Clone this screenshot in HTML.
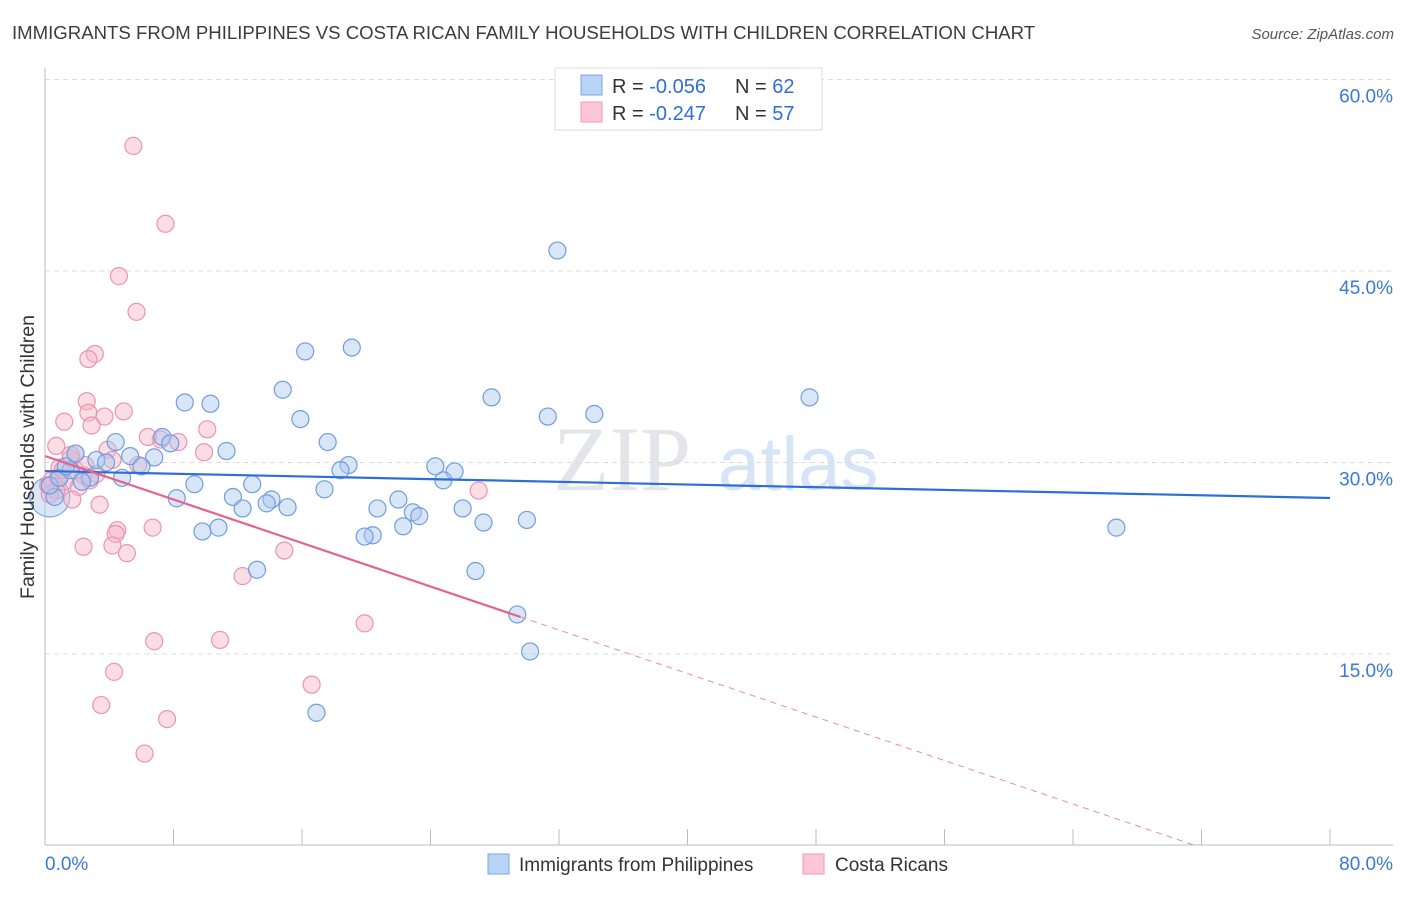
<!DOCTYPE html>
<html><head><meta charset="utf-8"><style>
body{margin:0;background:#fff;font-family:"Liberation Sans",sans-serif;}
svg text{font-family:"Liberation Sans",sans-serif;}
</style></head><body>
<svg id="chart" width="1406" height="892" xmlns="http://www.w3.org/2000/svg">
<text x="12" y="39" font-size="18.6" fill="#3c3c3c">IMMIGRANTS FROM PHILIPPINES VS COSTA RICAN FAMILY HOUSEHOLDS WITH CHILDREN CORRELATION CHART</text>
<text x="1394" y="39" font-size="15" fill="#555" font-style="italic" text-anchor="end">Source: ZipAtlas.com</text>
<text x="553" y="490" font-size="92" fill="#e2e5ea" style="font-family:'Liberation Serif',serif">ZIP</text>
<text x="718" y="490" font-size="76" fill="#d6e4f5">atlas</text>
<g id="grid"></g>
<g id="axes"></g>
<g id="pts"></g>
<g id="lines"></g>
<text x="34" y="457" font-size="19.5" fill="#333" text-anchor="middle" transform="rotate(-90 34 457)">Family Households with Children</text>
<g>
<rect x="555" y="68" width="267" height="62" fill="#fff" stroke="#ddd"/>
<rect x="581" y="75" width="21" height="20" fill="#b8d3f5" stroke="#7aa6e3"/>
<rect x="581" y="102" width="21" height="20" fill="#fcc6d6" stroke="#ec9ab4"/>
<text x="612" y="93" font-size="20" fill="#333">R = <tspan fill="#2f6fd6">-0.056</tspan></text>
<text x="735" y="93" font-size="20" fill="#333">N = <tspan fill="#2f6fd6">62</tspan></text>
<text x="612" y="120" font-size="20" fill="#333">R =  <tspan fill="#2f6fd6">-0.247</tspan></text>
<text x="735" y="120" font-size="20" fill="#333">N = <tspan fill="#2f6fd6">57</tspan></text>
</g>
<g>
<rect x="488" y="854" width="21" height="20" fill="#b8d3f5" stroke="#7aa6e3"/>
<text x="519" y="871" font-size="19" fill="#333">Immigrants from Philippines</text>
<rect x="803" y="854" width="21" height="20" fill="#fcc6d6" stroke="#ec9ab4"/>
<text x="835" y="871" font-size="19" fill="#333">Costa Ricans</text>
</g>
</svg>
<script>
const xTicks=[0,8,16,24,32,40,48,56,64,72,80];
const yTicks=[15,30,45,60];
const blueX=[31.9,19.1,16.2,47.6,27.8,14.8,8.7,10.3,31.3,34.2,15.9,17.6,4.4,7.3,7.8,11.3,5.3,6.8,3.2,3.8,18.9,24.3,25.5,18.4,6.0,24.8,4.8,2.8,9.3,12.9,17.4,8.2,11.7,22.0,14.1,13.8,15.1,12.3,20.7,26.0,22.9,23.3,30.0,27.3,22.3,10.8,9.8,20.4,19.9,66.7,13.2,26.8,29.4,30.2,16.9,0.6,0.3,0.9,1.6,2.3,1.3,1.9];
const blueY=[46.6,39.0,38.7,35.1,35.1,35.7,34.7,34.6,33.6,33.8,33.4,31.6,31.6,32.0,31.5,30.9,30.5,30.4,30.2,30.0,29.8,29.7,29.3,29.4,29.7,28.6,28.8,28.8,28.3,28.3,27.9,27.2,27.3,27.1,27.1,26.8,26.5,26.4,26.4,26.4,26.1,25.8,25.5,25.3,25.0,24.9,24.6,24.3,24.2,24.9,21.6,21.5,18.1,15.2,10.4,27.3,28.2,28.8,29.4,28.5,29.7,30.7];
const pinkX=[5.5,7.5,4.6,5.7,3.1,2.7,2.6,2.7,4.9,1.2,3.7,2.9,10.1,8.3,7.2,6.4,0.7,1.9,3.9,9.9,1.6,4.2,0.9,5.8,1.9,2.4,3.2,0.4,1.2,2.1,0.7,0.3,3.4,27.0,4.5,6.7,4.4,2.4,4.2,5.1,14.9,12.3,19.9,6.8,10.9,4.3,16.6,3.5,7.6,6.2,1.6,0.8,2.8,0.2,1.1,2.5,1.7];
const pinkY=[54.8,48.7,44.6,41.8,38.5,38.1,34.8,33.9,34.0,33.2,33.6,32.9,32.6,31.6,31.8,32.0,31.3,30.7,31.0,30.8,30.3,30.2,29.6,29.8,29.4,29.0,29.1,28.6,28.5,28.1,27.8,27.5,26.7,27.8,24.7,24.9,24.4,23.4,23.5,22.9,23.1,21.1,17.4,16.0,16.1,13.6,12.6,11.0,9.9,7.2,30.6,28.8,28.6,28.2,29.4,29.8,27.1];
const blueTrend=[29.33,27.22];
const pinkTrend=[30.51,-0.426,29.6];
const NS='http://www.w3.org/2000/svg';
const sx=v=>45+v*1285/80;
const sy=v=>845.5-v*191.5/15;
function mk(tag,attrs,parent){const e=document.createElementNS(NS,tag);for(const k in attrs)e.setAttribute(k,attrs[k]);document.getElementById(parent).appendChild(e);return e;}
yTicks.forEach(t=>{
 const g=mk('line',{x1:45,x2:1393,y1:sy(t),y2:sy(t),stroke:'#dcdcdc','stroke-dasharray':'5,4'},'grid');
 
 
 const l=mk('text',{x:1393,y:sy(t)+23,'font-size':19,fill:'#3b78d8','text-anchor':'end'},'grid');
 l.textContent=t.toFixed(1)+'%';
 
 
});
const ax=mk('line',{x1:45,x2:45,y1:68,y2:845,stroke:'#bbb'},'axes');


const bx=mk('line',{x1:45,x2:1393,y1:845,y2:845,stroke:'#bbb'},'axes');


xTicks.forEach(v=>{const t=mk('line',{x1:sx(v),x2:sx(v),y1:829,y2:845,stroke:'#bbb'},'axes');
 
 });
[0,80].forEach((v,i)=>{const l=mk('text',{x:i?1393:45,y:870,'font-size':19,fill:'#3b78d8','text-anchor':i?'end':'start'},'axes');
 l.textContent=v.toFixed(1)+'%';
 
 });
mk('circle',{cx:sx(0.3),cy:sy(27.3),r:20,fill:'rgba(170,200,240,0.45)',stroke:'#7aa6e3','stroke-width':1.2},'pts');
function dots(xs,ys,fill,stroke,name){xs.forEach((x,i)=>{const c=mk('circle',{cx:sx(x),cy:sy(ys[i]),r:8.5,fill:fill,stroke:stroke,'stroke-width':1.2},'pts');
 
 });}
dots(pinkX,pinkY,'rgba(247,180,200,0.45)','#eb94b0','costa-rican-point');
dots(blueX,blueY,'rgba(170,200,240,0.45)','#6e9ee0','philippines-point');
const bl=mk('line',{x1:sx(0),y1:sy(blueTrend[0]),x2:sx(80),y2:sy(blueTrend[1]),stroke:'#2c6fd5','stroke-width':2.2},'lines');


const pe=pinkTrend[2],pz=-pinkTrend[0]/pinkTrend[1];
const pl=mk('line',{x1:sx(0),y1:sy(pinkTrend[0]),x2:sx(pe),y2:sy(pinkTrend[0]+pinkTrend[1]*pe),stroke:'#e5628e','stroke-width':2.2},'lines');


const pd=mk('line',{x1:sx(pe),y1:sy(pinkTrend[0]+pinkTrend[1]*pe),x2:sx(pz),y2:sy(0),stroke:'#e88aa8','stroke-width':1,'stroke-dasharray':'6,5'},'lines');


</script>
</body></html>
